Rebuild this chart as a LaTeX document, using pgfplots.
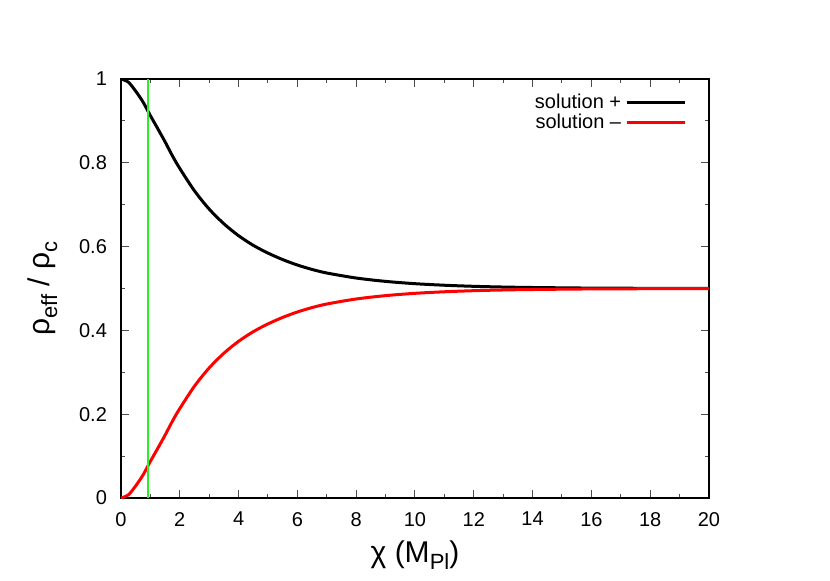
\documentclass[border=0pt]{standalone}
\usepackage{fontspec}
\setmainfont{Liberation Sans}
\usepackage{pgfplots}
\pgfplotsset{compat=1.18}

\definecolor{solgreen}{RGB}{40,240,40}

% rho_eff/rho_c; the two branches add up to 1
\pgfplotstableread{
chi    plus    minus
0      1.0000  0.0000
0.25   0.9925  0.0075
0.5    0.9710  0.0290
0.75   0.9450  0.0550
1.0    0.9125  0.0875
1.25   0.8815  0.1185
1.5    0.8500  0.1500
1.75   0.8165  0.1835
2.0    0.7865  0.2135
2.5    0.7330  0.2670
3.0    0.6895  0.3105
3.5    0.6545  0.3455
4.0    0.6260  0.3740
4.5    0.6030  0.3970
5.0    0.5845  0.4155
5.5    0.5690  0.4310
6.0    0.5560  0.4440
6.5    0.5455  0.4545
7.0    0.5370  0.4630
8.0    0.5250  0.4750
9.0    0.5170  0.4830
10     0.5115  0.4885
11     0.5078  0.4922
12     0.5052  0.4948
13     0.5035  0.4965
14     0.5024  0.4976
16     0.5010  0.4990
18     0.5005  0.4995
20     0.5002  0.4998
}\sol

\begin{document}
\begin{tikzpicture}
\begin{axis}[
	name=ax,
	scale only axis,
	width=294pt, height=209.5pt,
	xmin=0, xmax=20, ymin=0, ymax=1,
	xtick={0,2,...,20},
	ytick={0,0.2,...,1},
	minor x tick num=1,
	minor y tick num=1,
	major tick length=4pt,
	minor tick length=2pt,
	every tick/.style={black!70, line width=0.5pt},
	axis line style={line width=1pt},
	/pgf/number format/assume math mode=true,
	tick label style={font=\fontsize{10}{12}\selectfont},
	xticklabel style={yshift=-3.5pt},
	yticklabel style={xshift=-3.5pt},
	xlabel={χ (M\raisebox{-0.45ex}{\fontsize{11}{12}\selectfont Pl})},
	ylabel={ρ\raisebox{-0.45ex}{\fontsize{11}{12}\selectfont eff} / ρ\raisebox{-0.45ex}{\fontsize{11}{12}\selectfont c}},
	label style={font=\fontsize{15}{17}\selectfont},
	xlabel style={at={(axis description cs:0.5,-0.136)}, anchor=center},
	ylabel style={at={(axis description cs:-0.133,0.5)}, anchor=center},
	legend style={at={(axis description cs:0.972,0.985)}, anchor=north east,
		draw=none, fill=none, font=\fontsize{10}{12}\selectfont,
		row sep=-2.5pt},
	legend plot pos=right,
	legend cell align=right,
	legend image code/.code={\draw[#1] (0,0) -- (29pt,0);},
]
\addplot[black, line width=1.5pt, smooth] table[x=chi, y=plus] {\sol};
\addlegendentry{solution +}
\addplot[red, line width=1.5pt, smooth] table[x=chi, y=minus] {\sol};
\addlegendentry{solution –}
\addplot[solgreen, line width=1.2pt, forget plot] coordinates {(0.92,0) (0.92,1)};
\end{axis}
\pgfresetboundingbox
\path (ax.south west) ++(-60.5pt,-41pt) rectangle ++(415pt,290pt);
\end{tikzpicture}
\end{document}
